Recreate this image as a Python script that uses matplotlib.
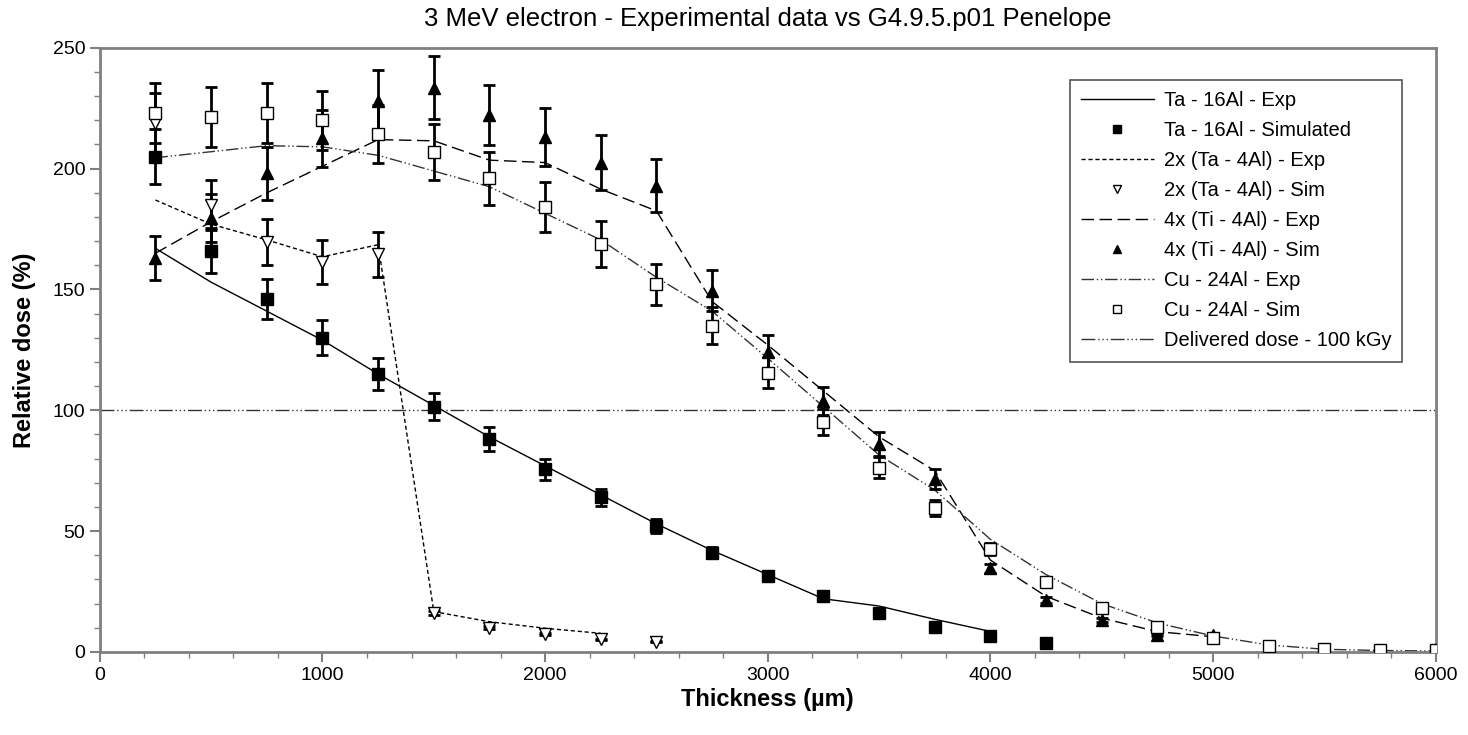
import numpy as np
import matplotlib.pyplot as plt
from matplotlib.ticker import MultipleLocator

plt.rcParams['font.family'] = ['Liberation Sans', 'DejaVu Sans']

# Thickness values (um)
x_ta_exp = [250, 500, 750, 1000, 1250, 1500, 1750, 2000, 2250, 2500, 2750, 3000, 3250, 3500, 3750, 4000]
x_ta_sim = [250, 500, 750, 1000, 1250, 1500, 1750, 2000, 2250, 2500, 2750, 3000, 3250, 3500, 3750, 4000, 4250]
x_ta4_exp = [250, 500, 750, 1000, 1250, 1500, 1750, 2000, 2250]
x_ta4_sim = [250, 500, 750, 1000, 1250, 1500, 1750, 2000, 2250, 2500]
x_ti = [250, 500, 750, 1000, 1250, 1500, 1750, 2000, 2250, 2500, 2750, 3000, 3250, 3500, 3750, 4000, 4250, 4500, 4750, 5000]
x_cu = [250, 500, 750, 1000, 1250, 1500, 1750, 2000, 2250, 2500, 2750, 3000, 3250, 3500, 3750, 4000, 4250, 4500,
        4750, 5000, 5250, 5500, 5750, 6000]

# Relative dose (%)
ta_exp = [167, 153, 141, 129, 115, 102, 89, 77, 65, 53, 42, 32, 22, 19, 13.5, 8.5]
ta_sim = [205, 166, 146, 130, 115, 101.5, 88, 75.5, 64, 52, 41, 31.5, 23, 16, 10.5, 6.6, 3.9]
ta4_exp = [187, 177, 170.5, 163.5, 168.5, 16.7, 12.5, 9.8, 7.7]
ta4_sim = [219, 185, 169.5, 161.5, 164.5, 16, 10, 7.5, 5.2, 4.3]
ti_exp = [165, 178, 190, 201, 212, 211.5, 203.5, 202.5, 191.5, 182.5, 145, 127, 108, 89, 75, 38, 23, 14, 8.4, 6.3]
ti_sim = [163, 179.5, 198, 212.5, 228, 233.5, 222, 213, 202.5, 193, 149.5, 124, 104, 86, 71.5, 34.6, 21.5, 13.2, 7,
          7]
cu_exp = [204.5, 207, 209.5, 209, 205.5, 199, 192.5, 181.5, 170.5, 155, 141, 121.5, 101.5, 81.5, 67, 46.6, 32, 20,
          12, 6.6, 2.9, 1.1, 0.6, 0.4]
cu_sim = [223, 221.5, 223, 220, 214.5, 207, 196, 184, 168.7, 152.2, 135, 115.5, 95.3, 76.3, 59.5, 42.6, 29.1, 18.1,
          10.5, 5.7, 2.6, 1.2, 0.9, 0.6]

# Relative uncertainty of the simulated points
rel_err = 0.056

fig = plt.figure(figsize=(14.68, 7.35), dpi=100)
ax = fig.add_axes([0.068, 0.113, 0.910, 0.822])

# Experimental curves (and legend entries for the simulated points)
ax.plot(x_ta_exp, ta_exp, color='black', lw=1.0, ls='-', label='Ta - 16Al - Exp', zorder=2)
ax.plot([], [], ls='none', marker='s', ms=8, mfc='black', mec='black', label='Ta - 16Al - Simulated')
ax.plot(x_ta4_exp, ta4_exp, color='black', lw=1.0, ls=(0, (3, 2)), label='2x (Ta - 4Al) - Exp', zorder=2)
ax.plot([], [], ls='none', marker='v', ms=9, mfc='white', mec='black', mew=1, label='2x (Ta - 4Al) - Sim')
ax.plot(x_ti, ti_exp, color='black', lw=1.0, ls=(0, (9, 4)), label='4x (Ti - 4Al) - Exp', zorder=2)
ax.plot([], [], ls='none', marker='^', ms=9, mfc='black', mec='black', label='4x (Ti - 4Al) - Sim')
ax.plot(x_cu, cu_exp, color='#333333', lw=1.0, ls=(0, (9, 2, 1, 2, 1, 2)), label='Cu - 24Al - Exp', zorder=2)
ax.plot([], [], ls='none', marker='s', ms=8, mfc='white', mec='black', mew=1, label='Cu - 24Al - Sim')
ax.axhline(100, color='#333333', lw=1.0, ls=(0, (10, 2, 1, 2, 1, 2, 1, 2)), label='Delivered dose - 100 kGy',
           zorder=1)

# Simulated points with error bars
sims = [(x_ta_sim, ta_sim, 's', 8, 'black'),
        (x_ta4_sim, ta4_sim, 'v', 9, 'white'),
        (x_ti, ti_sim, '^', 9, 'black'),
        (x_cu, cu_sim, 's', 8, 'white')]
for xs, ys, m, ms, fc in sims:
    ys = np.array(ys)
    ax.errorbar(xs, ys, yerr=rel_err * ys, fmt='none', ecolor='black', elinewidth=2, capsize=4.5, capthick=2,
                zorder=3)
    ax.plot(xs, ys, ls='none', marker=m, ms=ms, mfc=fc, mec='black', mew=1, zorder=4)

ax.set_xlim(0, 6000)
ax.set_ylim(0, 250)
ax.xaxis.set_major_locator(MultipleLocator(1000))
ax.xaxis.set_minor_locator(MultipleLocator(200))
ax.yaxis.set_major_locator(MultipleLocator(50))
ax.yaxis.set_minor_locator(MultipleLocator(10))
ax.tick_params(which='both', direction='out', color='#808080', labelsize=14)
ax.tick_params(which='major', length=7, width=1.5)
ax.tick_params(which='minor', length=4, width=1)
for s in ax.spines.values():
    s.set_color('#808080')
    s.set_linewidth(2)

ax.set_title('3 MeV electron - Experimental data vs G4.9.5.p01 Penelope', fontsize=18.5, pad=16)
ax.set_xlabel('Thickness (µm)', fontsize=17, fontweight='bold', labelpad=3)
ax.set_ylabel('Relative dose (%)', fontsize=17, fontweight='bold', labelpad=12)

leg = ax.legend(loc='upper right', bbox_to_anchor=(0.975, 0.947), borderaxespad=0, fontsize=14.5,
                fancybox=False, edgecolor='#555555', framealpha=1, handlelength=3.6, handletextpad=0.5,
                labelspacing=0.55, borderpad=0.55, markerscale=0.7)
leg.get_frame().set_linewidth(1.2)

fig.savefig('out.png', dpi=100)
